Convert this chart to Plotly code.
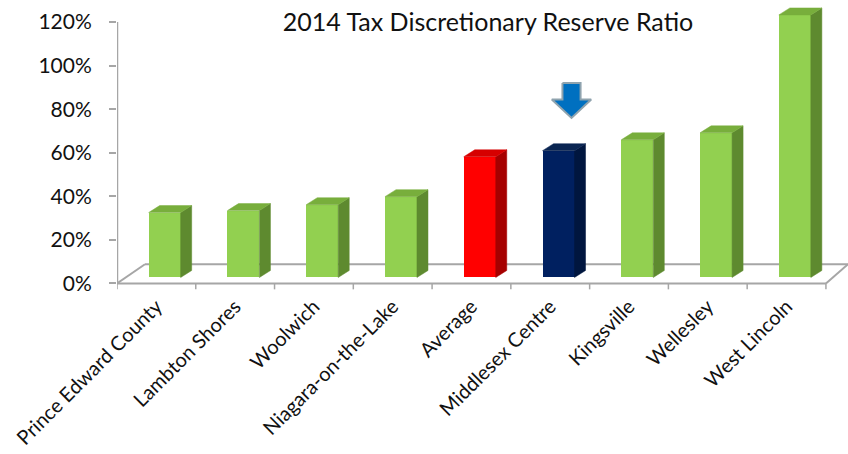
import plotly.graph_objects as go

# ---- data -------------------------------------------------------------
categories = [
    "Prince Edward County", "Lambton Shores", "Woolwich", "Niagara-on-the-Lake",
    "Average", "Middlesex Centre", "Kingsville", "Wellesley", "West Lincoln",
]
ratios = [0.298, 0.307, 0.334, 0.371, 0.554, 0.582, 0.632, 0.664, 1.205]
highlight = "Middlesex Centre"
y_ticks = [0, 0.2, 0.4, 0.6, 0.8, 1.0, 1.2]
y_tick_labels = ["0%", "20%", "40%", "60%", "80%", "100%", "120%"]
title_text = "2014 Tax Discretionary Reserve Ratio"

# ---- palette (front, side, top) ----------------------------------------
GREEN = ("#92D050", "#5E8A2F", "#78AE3C")
RED = ("#FF0000", "#A60000", "#D60000")
NAVY = ("#002060", "#00163F", "#0A2552")
AXIS_GREY = "#A6A6A6"
FONT = "Lato"


def palette(name):
    if name == "Average":
        return RED
    if name == highlight:
        return NAVY
    return GREEN


# ---- pseudo-3D geometry (axis units) -----------------------------------
FRONT_SHIFT = 0.105   # front face centre offset to the right of the category
FRONT_W = 0.406       # front face width
LIFT = 0.0275         # bars stand slightly behind the front floor edge
DEPTH_X = 0.14        # side-face depth, horizontal
DEPTH_Y = 0.032       # top-face depth, vertical
FLOOR_DX_L, FLOOR_DX_R, FLOOR_DY = 0.355, 0.28, 0.088

n = len(categories)
x_lo, x_hi = -0.5, n - 0.5

fig = go.Figure()
shapes = []


def seg(x0, y0, x1, y1, width=2):
    shapes.append(dict(type="line", xref="x", yref="y", x0=x0, y0=y0, x1=x1, y1=y1,
                       layer="below", line=dict(color=AXIS_GREY, width=width)))


# floor outline, boundary ticks and the vertical axis line sit under the columns
seg(x_lo + FLOOR_DX_L, FLOOR_DY, x_hi + FLOOR_DX_R, FLOOR_DY)
seg(x_lo, 0, x_lo + FLOOR_DX_L, FLOOR_DY)
seg(x_hi, 0, x_hi + FLOOR_DX_R, FLOOR_DY)
seg(x_lo, 0, x_hi, 0)
for k in range(n + 1):
    seg(x_lo + k, 0, x_lo + k, -0.027, width=1.5)
seg(x_lo, 0, x_lo, y_ticks[-1], width=2.5)

# side and top faces of every column
for i, (cat, v) in enumerate(zip(categories, ratios)):
    front, side, top = palette(cat)
    xl = i + FRONT_SHIFT - FRONT_W / 2
    xr = i + FRONT_SHIFT + FRONT_W / 2
    y0, y1 = LIFT, LIFT + v
    fig.add_trace(go.Scatter(
        x=[xr, xr + DEPTH_X, xr + DEPTH_X, xr, xr],
        y=[y0, y0 + DEPTH_Y, y1 + DEPTH_Y, y1, y0],
        fill="toself", fillcolor=side, mode="lines",
        line=dict(color=side, width=0.5), hoverinfo="skip", showlegend=False))
    fig.add_trace(go.Scatter(
        x=[xl, xr, xr + DEPTH_X, xl + DEPTH_X, xl],
        y=[y1, y1, y1 + DEPTH_Y, y1 + DEPTH_Y, y1],
        fill="toself", fillcolor=top, mode="lines",
        line=dict(color=top, width=0.5), hoverinfo="skip", showlegend=False))

# front faces
fig.add_trace(go.Bar(
    x=[i + FRONT_SHIFT for i in range(n)], y=ratios, base=LIFT, width=FRONT_W,
    marker=dict(color=[palette(c)[0] for c in categories],
                line=dict(width=0)),
    hoverinfo="skip", showlegend=False))

# pointer above the highlighted column
h = categories.index(highlight)
hv = ratios[h]
cx = h + FRONT_SHIFT + DEPTH_X / 2 + 0.095
tip = LIFT + hv + 0.15
sw, hw = 0.115, 0.25
arrow_x = [cx - sw, cx + sw, cx + sw, cx + hw, cx, cx - hw, cx - sw, cx - sw]
arrow_y = [tip + 0.16, tip + 0.16, tip + 0.085, tip + 0.085, tip, tip + 0.085, tip + 0.085, tip + 0.16]
fig.add_trace(go.Scatter(x=arrow_x, y=arrow_y, fill="toself", fillcolor="#0070C0",
                         mode="lines", line=dict(color="#8FA3AE", width=2),
                         hoverinfo="skip", showlegend=False))

fig.update_layout(
    width=848, height=454,
    margin=dict(l=117, r=0, t=0, b=164),
    paper_bgcolor="white", plot_bgcolor="white",
    font=dict(family=FONT, color="#111111"),
    shapes=shapes,
    title=dict(text=title_text, x=488 / 848, xanchor="center", xref="container",
               y=1 - 22 / 454, yanchor="middle", yref="container",
               font=dict(family=FONT, size=25, color="#111111")),
    xaxis=dict(range=[x_lo, x_hi + 0.28], tickvals=list(range(n)), ticktext=categories,
               tickangle=-45, tickfont=dict(size=20, family=FONT), showgrid=False,
               zeroline=False, showline=False, ticks=""),
    yaxis=dict(range=[-0.03, 1.301], tickvals=y_ticks, ticktext=y_tick_labels,
               tickfont=dict(size=21, family=FONT), showgrid=False, zeroline=False,
               showline=False, ticks="outside", ticklen=7, tickcolor=AXIS_GREY,
               tickwidth=2, ticklabelstandoff=13),
    bargap=0,
)

fig.write_html("out.html")
